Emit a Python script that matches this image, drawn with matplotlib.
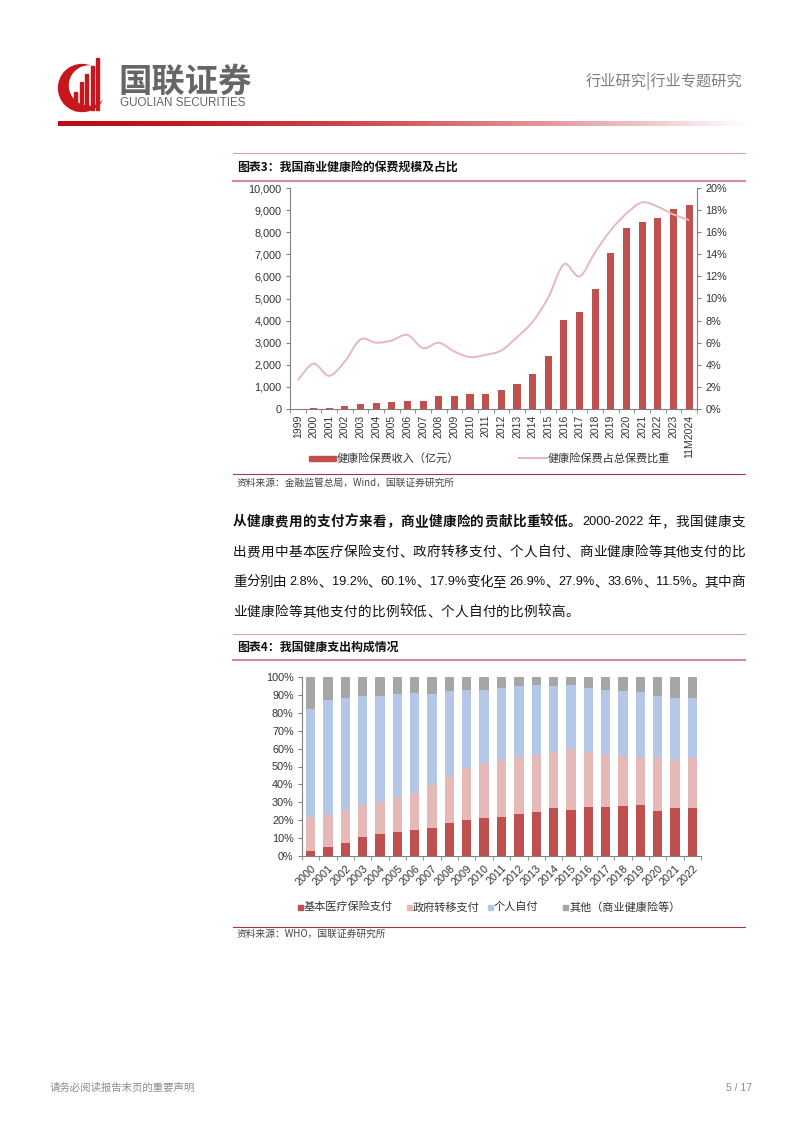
import numpy as np
import matplotlib
matplotlib.use('Agg')
import matplotlib.pyplot as plt
from matplotlib.patches import Rectangle, Circle, PathPatch
from matplotlib.path import Path
from matplotlib.lines import Line2D
from matplotlib.ticker import FuncFormatter, MultipleLocator

W, H = 802, 1133
CJK = ['Noto Sans CJK SC', 'DejaVu Sans']
NUM = ['Liberation Sans', 'Noto Sans CJK SC', 'DejaVu Sans']
plt.rcParams['font.family'] = CJK

# ---------------- data: chart 3 ----------------
years3 = ['1999', '2000', '2001', '2002', '2003', '2004', '2005', '2006', '2007',
          '2008', '2009', '2010', '2011', '2012', '2013', '2014', '2015', '2016',
          '2017', '2018', '2019', '2020', '2021', '2022', '2023', '11M2024']
premium = [4, 65, 60, 122, 242, 259, 312, 377, 384, 586, 574, 677, 692, 863,
           1123, 1587, 2410, 4042, 4389, 5448, 7066, 8173, 8447, 8653, 9035, 9219]
share = [2.6, 4.1, 3.0, 4.3, 6.3, 6.0, 6.2, 6.7, 5.5, 6.0, 5.2, 4.7, 4.9, 5.3,
         6.5, 7.9, 10.1, 13.1, 12.0, 14.2, 16.2, 17.7, 18.7, 18.3, 17.6, 17.1]
legend3 = ['健康险保费收入（亿元）', '健康险保费占总保费比重']

# ---------------- data: chart 4 ----------------
years4 = ['2000', '2001', '2002', '2003', '2004', '2005', '2006', '2007', '2008',
          '2009', '2010', '2011', '2012', '2013', '2014', '2015', '2016', '2017',
          '2018', '2019', '2020', '2021', '2022']
basic = [2.8, 5.2, 7.5, 10.4, 12.3, 13.2, 14.6, 15.7, 18.3, 19.9, 21.5, 21.8, 23.3,
         24.6, 26.9, 25.7, 27.2, 27.6, 28.0, 28.4, 25.2, 26.9, 26.9]
gov = [19.2, 17.6, 18.2, 18.1, 17.7, 19.8, 20.8, 23.7, 26.5, 29.5, 30.4, 31.9, 31.9,
       31.9, 31.3, 34.2, 30.8, 28.9, 27.8, 26.8, 29.5, 26.8, 27.9]
oop = [60.1, 64.1, 62.5, 61.1, 59.2, 57.5, 55.6, 51.1, 47.2, 43.5, 41.0, 40.1, 39.9,
       39.0, 36.6, 35.6, 35.8, 36.4, 36.2, 36.2, 34.9, 34.5, 33.6]
other = [17.9, 13.1, 11.8, 10.4, 10.8, 9.5, 9.0, 9.5, 8.0, 7.1, 7.1, 6.2, 4.9,
         4.5, 5.2, 4.5, 6.2, 7.1, 8.0, 8.6, 10.4, 11.8, 11.5]
legend4 = ['基本医疗保险支付', '政府转移支付', '个人自付', '其他（商业健康险等）']

RED = '#C0504D'
PINK = '#E6B9B8'
BLUE = '#B4C7E7'
GRAY = '#A6A6A6'
AXC = '#808080'
TXT = '#333333'

fig = plt.figure(figsize=(W / 100, H / 100), dpi=100)
fig.patch.set_facecolor('white')
renderer = fig.canvas.get_renderer()


def px(x):
    return x / W


def py(y):
    return 1 - y / H


def rect(x0, y0, x1, y1):
    return [x0 / W, 1 - y1 / H, (x1 - x0) / W, (y1 - y0) / H]


def hline(x0, x1, y, color, lw):
    fig.add_artist(Line2D([px(x0), px(x1)], [py(y), py(y)], color=color, lw=lw,
                          transform=fig.transFigure))


# ---------------- header ----------------
lax = fig.add_axes(rect(55, 57, 110, 115))
lax.set_xlim(55, 110)
lax.set_ylim(115, 57)
lax.axis('off')
lax.add_patch(Circle((82, 88), 23.5, color='#C8161D'))
lax.add_patch(Circle((89, 85.5), 19.5, color='white'))
for bx, top in [(74, 92), (79.5, 82), (85, 74), (90.5, 66), (96, 58)]:
    lax.add_patch(Rectangle((bx, top), 3.2, 110 - top, color='#C8161D'))

fig.text(px(118), py(82), '国联证券', fontsize=24, fontweight='bold', color='#666666',
         va='center', ha='left')
fig.text(px(120), py(103), 'GUOLIAN SECURITIES', fontsize=8.4, color='#666666',
         va='center', ha='left', family=NUM)
fig.text(px(742), py(81), '行业研究|行业专题研究', fontsize=11, color='#7f7f7f',
         va='center', ha='right', fontweight='light')

gax = fig.add_axes(rect(58, 121, 748, 126))
gax.axis('off')
t = np.linspace(0, 1, 400)
w = t ** 1.6
grad = np.zeros((1, 400, 3))
grad[0, :, 0] = (192 * (1 - w) + 255 * w) / 255
grad[0, :, 1] = (10 * (1 - w) + 255 * w) / 255
grad[0, :, 2] = (20 * (1 - w) + 255 * w) / 255
gax.imshow(grad, aspect='auto', extent=(0, 1, 0, 1))

# ---------------- chart 3 title ----------------
hline(233, 745, 153, '#D9A3B3', 0.8)
fig.text(px(237), py(167), '图表3：我国商业健康险的保费规模及占比', fontsize=8.6,
         fontweight='bold', va='center', ha='left', color='#111111')
hline(233, 745, 181, '#D8879D', 1.5)

# ---------------- chart 3 ----------------
ax1 = fig.add_axes(rect(290, 188, 697, 409))
x3 = np.arange(len(years3))
ax1.bar(x3, premium, width=0.45, color=RED, zorder=2)
ax1.set_xlim(-0.5, len(years3) - 0.5)
ax1.set_ylim(0, 10000)
ax1.yaxis.set_major_locator(MultipleLocator(1000))
ax1.yaxis.set_major_formatter(FuncFormatter(lambda v, p: f'{int(v):,}'))
ax1.set_xticks(x3)
ax1.set_xticklabels(years3, rotation=90, fontsize=7.5, family=NUM, color=TXT)
ax1.tick_params(axis='x', which='major', length=0, pad=4)
ax1.set_xticks(np.arange(-0.5, len(years3), 1), minor=True)
ax1.tick_params(axis='x', which='minor', length=3, direction='out', color=AXC)
ax1.tick_params(axis='y', length=3, direction='out', color=AXC, labelsize=7.8,
                labelcolor=TXT, pad=3)
for lab in ax1.get_yticklabels():
    lab.set_family(NUM)
for s in ['top', 'right']:
    ax1.spines[s].set_visible(False)
for s in ['left', 'bottom']:
    ax1.spines[s].set_color(AXC)
    ax1.spines[s].set_linewidth(0.8)

ax2 = ax1.twinx()
ax2.set_ylim(0, 20)
ax2.yaxis.set_major_locator(MultipleLocator(2))
ax2.yaxis.set_major_formatter(FuncFormatter(lambda v, p: f'{int(round(v))}%'))
ax2.tick_params(axis='y', length=3, direction='out', color=AXC, labelsize=7.8,
                labelcolor=TXT, pad=3)
for lab in ax2.get_yticklabels():
    lab.set_family(NUM)
for s in ['top', 'left', 'bottom']:
    ax2.spines[s].set_visible(False)
ax2.spines['right'].set_color(AXC)
ax2.spines['right'].set_linewidth(0.8)


def smooth_path(xs, ys):
    pts = np.column_stack([xs, ys]).astype(float)
    n = len(pts)
    verts = [pts[0]]
    codes = [Path.MOVETO]
    for i in range(n - 1):
        p0 = pts[i - 1] if i > 0 else pts[i]
        p1 = pts[i]
        p2 = pts[i + 1]
        p3 = pts[i + 2] if i + 2 < n else pts[i + 1]
        verts += [p1 + (p2 - p0) / 6, p2 - (p3 - p1) / 6, p2]
        codes += [Path.CURVE4] * 3
    return Path(verts, codes)


ax2.add_patch(PathPatch(smooth_path(x3, share), facecolor='none', edgecolor=PINK,
                        lw=1.4, zorder=3))

# legend chart 3
fig.add_artist(Rectangle((px(309), py(460.5)), 27 / W, 5 / H, color=RED,
                         transform=fig.transFigure))
fig.text(px(337), py(458), legend3[0], fontsize=8, va='center', ha='left',
         color=TXT, family=CJK)
fig.add_artist(Line2D([px(519), px(547)], [py(458), py(458)], color=PINK, lw=1.4,
                      transform=fig.transFigure))
fig.text(px(548), py(458), legend3[1], fontsize=8, va='center', ha='left',
         color=TXT, family=CJK)

hline(233, 745, 474, '#A4383F', 0.8)
fig.text(px(237), py(483), '资料来源：金融监管总局，Wind，国联证券研究所', fontsize=7,
         va='center', ha='left', color='#444444')

# ---------------- paragraph (justified) ----------------
CJK_FS = 9.8
ASC_FS = 9.2
SPACE_W = 3.6


def tokenize(segments):
    toks = []
    for text, wt in segments:
        buf = ''
        for c in text:
            if ord(c) > 0x2E80 or c == ' ':
                if buf:
                    toks.append((buf, wt, 'asc'))
                    buf = ''
                toks.append((c, wt, 'sp' if c == ' ' else 'cjk'))
            else:
                buf += c
        if buf:
            toks.append((buf, wt, 'asc'))
    return toks


def draw_line(y, segments, gap=None, x0=233, x1=745):
    toks = tokenize(segments)
    items = []
    for s, wt, kind in toks:
        if kind == 'sp':
            items.append((None, SPACE_W))
            continue
        if kind == 'cjk':
            tt = fig.text(0, py(y), s, fontsize=CJK_FS, fontweight=wt, va='center',
                          ha='left', color='#111111', family=CJK)
        else:
            tt = fig.text(0, py(y), s, fontsize=ASC_FS, fontweight=wt, va='center',
                          ha='left', color='#111111', family=NUM)
        items.append((tt, tt.get_window_extent(renderer).width))
    total = sum(wd for _, wd in items)
    if gap is None:
        gap = (x1 - x0 - total) / (len(items) - 1)
    x = x0
    for tt, wd in items:
        if tt is not None:
            tt.set_x(px(x))
        x += wd + gap
    return gap


draw_line(522, [('从健康费用的支付方来看，商业健康险的贡献比重较低。', 'bold'),
                ('2000-2022 年，我国健康支', 'normal')])
g2 = draw_line(552, [('出费用中基本医疗保险支付、政府转移支付、个人自付、商业健康险等其他支付的比', 'normal')])
draw_line(582, [('重分别由 2.8%、19.2%、60.1%、17.9%变化至 26.9%、27.9%、33.6%、11.5%。其中商', 'normal')])
draw_line(612, [('业健康险等其他支付的比例较低、个人自付的比例较高。', 'normal')], gap=g2)

# ---------------- chart 4 title ----------------
hline(233, 745, 634, '#D9A3B3', 0.8)
fig.text(px(237), py(647), '图表4：我国健康支出构成情况', fontsize=8.6,
         fontweight='bold', va='center', ha='left', color='#111111')
hline(233, 745, 660, '#D8879D', 1.5)

# ---------------- chart 4 ----------------
ax3 = fig.add_axes(rect(302, 677, 701, 856))
x4 = np.arange(len(years4))
b1 = np.array(basic)
b2 = b1 + np.array(gov)
b3 = b2 + np.array(oop)
bw = 0.54
ax3.bar(x4, basic, width=bw, color=RED, label=legend4[0])
ax3.bar(x4, gov, width=bw, bottom=b1, color=PINK, label=legend4[1])
ax3.bar(x4, oop, width=bw, bottom=b2, color=BLUE, label=legend4[2])
ax3.bar(x4, other, width=bw, bottom=b3, color=GRAY, label=legend4[3])
ax3.set_xlim(-0.5, len(years4) - 0.5)
ax3.set_ylim(0, 100)
ax3.yaxis.set_major_locator(MultipleLocator(10))
ax3.yaxis.set_major_formatter(FuncFormatter(lambda v, p: f'{int(round(v))}%'))
ax3.set_xticks(x4)
ax3.set_xticklabels(years4, rotation=45, ha='right', rotation_mode='anchor',
                    fontsize=7.8, family=NUM, color=TXT)
ax3.tick_params(axis='x', which='major', length=0, pad=5)
ax3.set_xticks(np.arange(-0.5, len(years4), 1), minor=True)
ax3.tick_params(axis='x', which='minor', length=3, direction='out', color=AXC)
ax3.tick_params(axis='y', length=3, direction='out', color=AXC, labelsize=7.8,
                labelcolor=TXT, pad=3)
for lab in ax3.get_yticklabels():
    lab.set_family(NUM)
for s in ['top', 'right']:
    ax3.spines[s].set_visible(False)
for s in ['left', 'bottom']:
    ax3.spines[s].set_color(AXC)
    ax3.spines[s].set_linewidth(0.8)

# legend chart 4
for (sx, tx, col, lab) in [(298, 304, RED, legend4[0]), (407, 413, PINK, legend4[1]),
                           (488, 494, BLUE, legend4[2]), (563, 569, GRAY, legend4[3])]:
    fig.add_artist(Rectangle((px(sx), py(909.5)), 5 / W, 5 / H, color=col,
                             transform=fig.transFigure))
    fig.text(px(tx), py(907), lab, fontsize=8, va='center', ha='left', color=TXT)

hline(233, 745, 927, '#A4383F', 0.8)
fig.text(px(237), py(934), '资料来源：WHO，国联证券研究所', fontsize=7,
         va='center', ha='left', color='#444444')

# ---------------- footer ----------------
fig.text(px(50), py(1088), '请务必阅读报告末页的重要声明', fontsize=7.5, va='center',
         ha='left', color='#8c8c8c')
fig.text(px(752), py(1088), '5 / 17', fontsize=7.5, va='center', ha='right',
         color='#8c8c8c', family=NUM)

fig.savefig('out.png', dpi=100, facecolor='white')
